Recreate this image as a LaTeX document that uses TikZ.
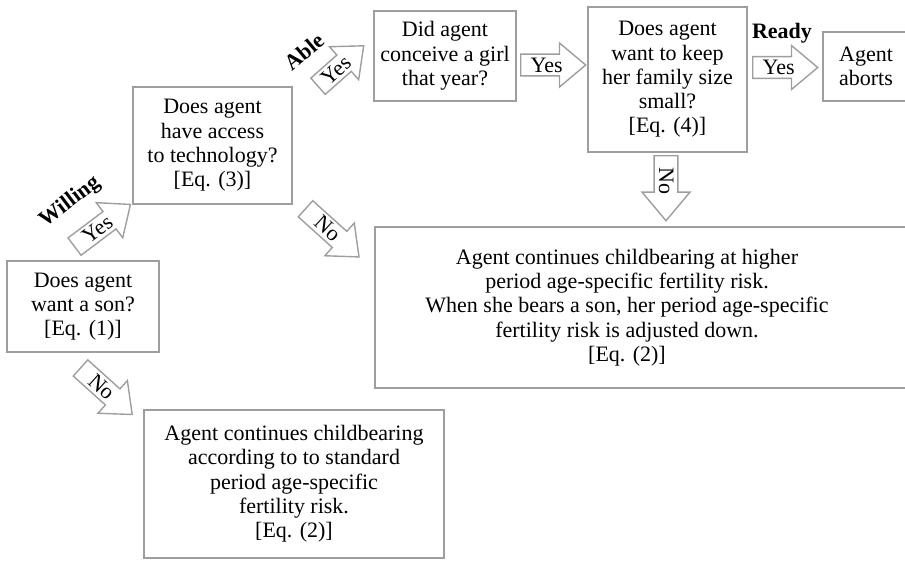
\documentclass[tikz,border=0pt]{standalone}
\usepackage{fontspec}
\setmainfont{Liberation Serif}
\usetikzlibrary{shapes.arrows}
\definecolor{bordergray}{RGB}{158,158,158}
\tikzset{
 box/.style={draw=bordergray, line width=1.5pt, align=center, inner sep=0pt, font=\fontsize{22}{24.3}\selectfont},
 bodytext/.style={align=center, inner sep=0pt, font=\fontsize{22}{24.3}\selectfont},
 blockarrow/.style={single arrow, draw=bordergray, line width=1.4pt, single arrow head extend=11pt, single arrow tip angle=80, inner xsep=3.5pt, inner ysep=3pt, text height=14pt, text depth=0pt, minimum width=44pt, minimum height=65pt, font=\fontsize{22}{24}\selectfont, anchor=tail},
 lab/.style={font=\fontsize{22}{24}\selectfont\bfseries, inner sep=0pt}
}
\begin{document}
\begin{tikzpicture}[x=1pt,y=-1pt]
\useasboundingbox (0,0) rectangle (905,562);
\clip (0,0) rectangle (905,562);
% boxes
\node[box, minimum width=152pt, minimum height=91pt] (son) at (83,306.5) {Does agent\\want a son?\\{[Eq. (1)]}};
\node[box, minimum width=159pt, minimum height=117pt] (tech) at (212.5,145.5) {Does agent\\have access\\to technology?\\{[Eq. (3)]}};
\node[box, minimum width=142pt, minimum height=90pt] (girl) at (445,56) {Did agent\\conceive a girl\\that year?};
\node[box, minimum width=159pt, minimum height=145pt] (small) at (667.5,79.5) {Does agent\\want to keep\\her family size\\small?\\{[Eq. (4)]}};
\node[box, minimum width=86pt, minimum height=69pt] (abort) at (866,66.5) {Agent\\aborts};
\node[box, minimum width=545pt, minimum height=161pt] (bigbox) at (647.5,307.5) {};
\node[bodytext] (bigtext) at (627,307.5) {Agent continues childbearing at higher\\period age-specific fertility risk.\\When she bears a son, her period age-specific\\fertility risk is adjusted down.\\{[Eq. (2)]}};
\node[box, minimum width=300pt, minimum height=148pt] (standard) at (294,484) {Agent continues childbearing\\according to to standard\\period age-specific\\fertility risk.\\{[Eq. (2)]}};
% block arrows
\node[blockarrow, rotate=37, minimum height=70pt] (ywill) at (74,247) {Yes};
\node[blockarrow, rotate=41.5, minimum height=61pt] (yable) at (317.5,86.7) {Yes};
\node[blockarrow] (ygirl) at (520,65) {Yes};
\node[blockarrow] (yready) at (752,67.5) {Yes};
\node[blockarrow, rotate=-90, minimum width=48pt] (nosmall) at (666,155) {No};
\node[blockarrow, rotate=-42, minimum height=69.5pt] (noson) at (80,367.5) {No};
\node[blockarrow, rotate=-42, minimum height=72pt] (notech) at (305,208.3) {No};
% labels
\node[lab, rotate=37] (willing) at (70,202) {Willing};
\node[lab, rotate=40] (able) at (304,52) {Able};
\node[lab, anchor=base] (ready) at (782,38) {Ready};
\end{tikzpicture}
\end{document}
